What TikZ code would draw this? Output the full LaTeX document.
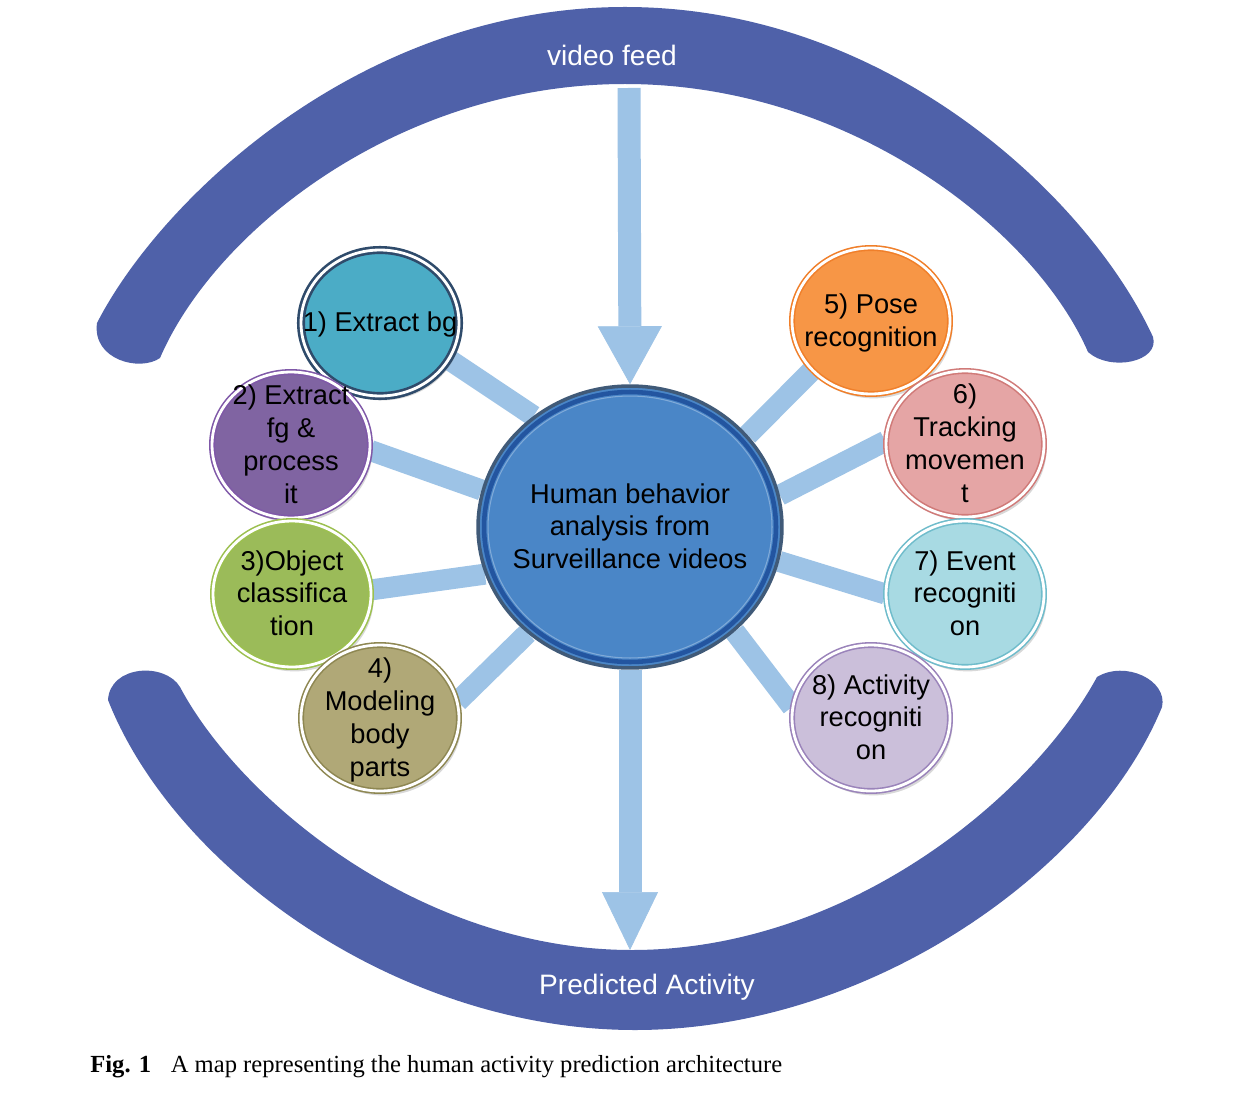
\documentclass[tikz,border=0pt]{standalone}
\usepackage{fontspec}
\setmainfont{Liberation Sans}
\newfontfamily\capfont{Liberation Serif}
\usetikzlibrary{shapes.geometric,arrows.meta,shadows,backgrounds}
\definecolor{arcblue}{HTML}{4F61A9}
\definecolor{barblue}{HTML}{9DC3E6}
\definecolor{centfill}{HTML}{4A86C7}
\definecolor{centedge}{HTML}{405A78}
\definecolor{centring}{HTML}{2355A0}
\definecolor{cAf}{HTML}{4BACC6}\definecolor{cAd}{HTML}{2F4B6B}
\definecolor{cBf}{HTML}{8064A2}\definecolor{cBd}{HTML}{7F58A8}
\definecolor{cCf}{HTML}{9BBB59}\definecolor{cCd}{HTML}{9CC04F}
\definecolor{cDf}{HTML}{B0A877}\definecolor{cDd}{HTML}{8E8752}
\definecolor{cEf}{HTML}{F79646}\definecolor{cEd}{HTML}{F07F2A}
\definecolor{cFf}{HTML}{E5A5A5}\definecolor{cFd}{HTML}{D07A78}
\definecolor{cGf}{HTML}{A8DAE3}\definecolor{cGd}{HTML}{6FBCCB}
\definecolor{cHf}{HTML}{CBBFDA}\definecolor{cHd}{HTML}{9A83BA}
% text that does not enlarge its node
\newcommand{\ctext}[1]{\makebox[0pt]{\raisebox{-0.32em}[0pt][0pt]{\begin{tabular}{@{}c@{}}#1\end{tabular}}}}
\begin{document}
\begin{tikzpicture}[x=0.02cm,y=-0.02cm,
  bubble/.style={ellipse, minimum width=3.16cm, minimum height=2.92cm,
    inner sep=0pt, text=black,
    font=\fontsize{15.5}{18.7}\selectfont,
    fill=#1f, draw=#1d, line width=0.9pt, double=white, double distance=1.6pt,
    drop shadow={opacity=0.3, shadow xshift=1.5pt, shadow yshift=-2.5pt}},
  bar/.style={draw=barblue, line width=0.42cm},
  arr/.style={draw=barblue, line width=0.46cm},
  arclabel/.style={text=white, font=\fontsize{16}{19}\selectfont}
]
\useasboundingbox (0,0) rectangle (1256,1118);

% central node
\node[ellipse, minimum width=6.08cm, minimum height=5.64cm, inner sep=0pt,
  fill=centfill, draw=centedge, line width=2pt,
  font=\fontsize{15.5}{18.7}\selectfont] (c) at (630,527)
  {\ctext{Human behavior\\analysis from\\Surveillance videos}};
\draw[centring, line width=2.6pt] (c.center) ellipse [x radius=2.92cm, y radius=2.70cm];
\draw[centfill!70!white, line width=0.6pt] (c.center) ellipse [x radius=2.84cm, y radius=2.62cm];

% bubbles
\node[bubble=cA, line width=1.5pt] (n1) at (380,323) {\ctext{1) Extract bg}};
\node[bubble=cB] (n2) at (291,445) {\ctext{2) Extract\\fg \&\\process\\it}};
\node[bubble=cC] (n3) at (292,594) {\ctext{3)Object\\classifica\\tion}};
\node[bubble=cD] (n4) at (380,718) {\ctext{4)\\Modeling\\body\\parts}};
\node[bubble=cE] (n5) at (871,321) {\ctext{5) Pose\\recognition}};
\node[bubble=cF] (n6) at (965,444) {\ctext{6)\\Tracking\\movemen\\t}};
\node[bubble=cG] (n7) at (965,594) {\ctext{7) Event\\recogniti\\on}};
\node[bubble=cH] (n8) at (871,718) {\ctext{8) Activity\\recogniti\\on}};

% arc labels and arrow end points
\node[arclabel] (vflabel) at (612,55) {video feed};
\node[arclabel] (palabel) at (647,987) {Predicted Activity};
\coordinate (vfsrc) at (629,88);
\coordinate (pasink) at (630,950);

% caption
\node[anchor=west, inner sep=0pt, font=\capfont\fontsize{14}{16}\selectfont] (cap) at (90,1067)
  {\textbf{Fig. 1}\hspace{0.8em}A map representing the human activity prediction architecture};

\begin{scope}[on background layer]
  \fill[white] (0,0) rectangle (1256,1118);
  % top crescent
  \fill[arcblue] (97,323) .. controls (160,200) and (360,7) .. (625,7)
    .. controls (890,7) and (1090,200) .. (1153,337)
    .. controls (1160,362) and (1110,372) .. (1088,352)
    .. controls (1035,230) and (850,84) .. (625,84)
    .. controls (400,84) and (215,230) .. (160,358)
    .. controls (140,372) and (92,360) .. cycle;
  % bottom crescent
  \fill[arcblue] (108,700) .. controls (175,870) and (400,1030) .. (635,1030)
    .. controls (870,1030) and (1095,870) .. (1162,707)
    .. controls (1168,680) and (1125,660) .. (1097,677)
    .. controls (1030,800) and (845,950) .. (632,950)
    .. controls (420,950) and (240,800) .. (180,687)
    .. controls (165,662) and (110,665) .. cycle;
  % spokes
  \draw[bar] (n1.-28) -- (c.131);
  \draw[bar] (n2.-4) -- (c.166);
  \draw[bar] (n3.3) -- (c.-162);
  \draw[bar] (n4.12) -- (c.-134);
  \draw[bar] (n5.-140) -- (c.38);
  \draw[bar] (n6.178) -- (c.12);
  \draw[bar] (n7.180) -- (c.-13);
  \draw[bar] (n8.172) -- (c.-45);
  % flow arrows
  \draw[arr, -{Triangle[width=1.28cm,length=1.16cm,line width=0.4pt]}] (vfsrc) -- (c.north);
  \draw[arr, -{Triangle[width=1.12cm,length=1.16cm,line width=0.4pt]}] (c.south) -- (pasink);
\end{scope}
\end{tikzpicture}
\end{document}
